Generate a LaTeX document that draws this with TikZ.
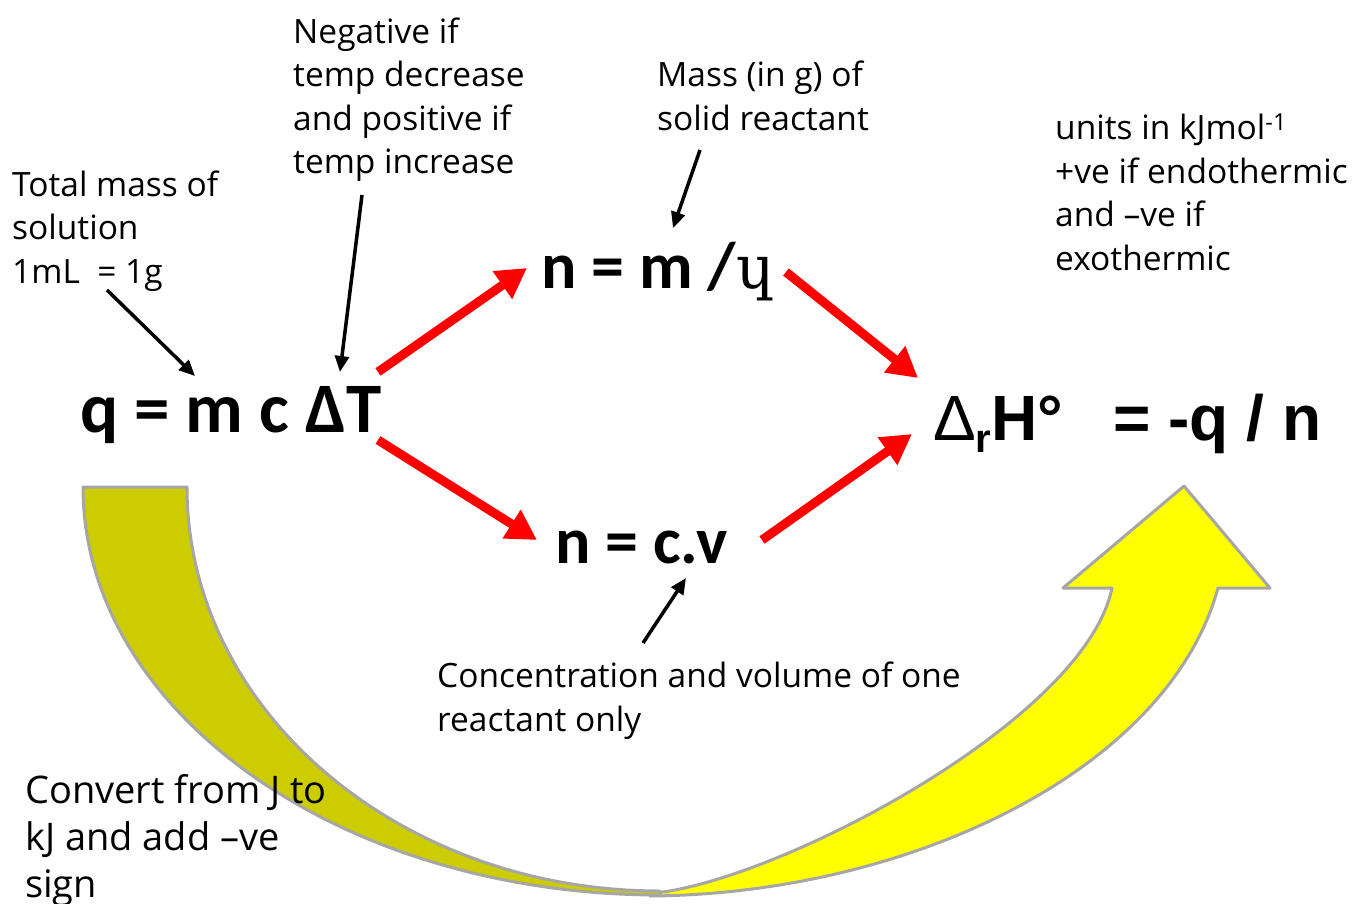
\documentclass[tikz,border=0pt]{standalone}
\usepackage{fontspec}
\setmainfont{Open Sans}
\newfontfamily\calb{Carlito}
\newfontfamily\arb{Liberation Sans}
\newfontfamily\dvs{DejaVu Serif}
\usetikzlibrary{arrows.meta}
\definecolor{darkyel}{HTML}{CCCC00}
\definecolor{brightyel}{HTML}{FFFF00}
\definecolor{edgegray}{HTML}{A6A6A6}
\begin{document}
\begin{tikzpicture}[x=1pt,y=-1pt,
  note/.style={font=\fontsize{33.5}{43.5}\selectfont, align=left, anchor=north west, inner sep=0pt},
  bignote/.style={font=\fontsize{38}{47}\selectfont, align=left, anchor=north west, inner sep=0pt},
  formula/.style={font=\calb\bfseries\fontsize{66}{70}\selectfont, inner sep=0pt, anchor=base west},
  formulab/.style={font=\arb\bfseries\fontsize{64}{70}\selectfont, inner sep=0pt, anchor=base west},
  redarrow/.style={draw=red, line width=9pt, -{Triangle[length=30pt,width=32pt]}},
  blackarrow/.style={draw=black, line width=3.5pt, -{Triangle[length=16pt,width=14pt]}},
  band/.style={draw=edgegray, line width=3pt, line join=round}]
\useasboundingbox (0,0) rectangle (1355,904);

% curved band arrow
\path[band, fill=brightyel] (650,896) .. controls (910,894) and (1168,770) .. (1218,588)
  -- (1270,588) -- (1184,486) -- (1063,588) -- (1112,588)
  .. controls (1085,720) and (780,880) .. (655,893) -- cycle;
\path[band, fill=darkyel] (83,487) -- (187,487) .. controls (187,710) and (399,891) .. (660,891)
  -- (660,895) .. controls (341,895) and (83,712) .. (83,487) -- cycle;

% formulas
\node[formula, font=\calb\bfseries\fontsize{71}{74}\selectfont] (q) at (80,432) {q = m c ΔT};
\node[formula] (nm) at (541,288) {n = m /{\dvs\mdseries\fontsize{60}{60}\selectfont ɥ}};
\node[formula] (nc) at (555,563) {n = c.v};
\node[formulab] (dh) at (933,440) {{\mdseries Δ}\raisebox{-12pt}{\fontsize{40}{40}\selectfont r}H°\hspace{50pt}= -q / n};

% notes
\node[note] (total) at (12,170.5) {Total mass of\\solution\\1mL\ \ = 1g};
\node[note] (neg) at (293,17.5) {Negative if\\temp decrease\\and positive if\\temp increase};
\node[note] (mass) at (657,61) {Mass (in g) of\\solid reactant};
\node[note] (units) at (1055,114) {units in kJmol\textsuperscript{-1}\\+ve if endothermic\\and –ve if\\exothermic};
\node[note] (conc) at (437,662) {Concentration and volume of one\\reactant only};
\node[bignote] (conv) at (25,774) {Convert from J to\\kJ and add –ve\\sign};

% red arrows
\coordinate (r1s) at (378,372); \coordinate (r1e) at (527,268);
\coordinate (r2s) at (378,440); \coordinate (r2e) at (537,540);
\coordinate (r3s) at (786,272); \coordinate (r3e) at (918,378);
\coordinate (r4s) at (762,540); \coordinate (r4e) at (912,434);
\draw[redarrow] (r1s) -- (r1e);
\draw[redarrow] (r2s) -- (r2e);
\draw[redarrow] (r3s) -- (r3e);
\draw[redarrow] (r4s) -- (r4e);

% black arrows
\coordinate (b1s) at (107,290); \coordinate (b1e) at (195,376);
\coordinate (b2s) at (362,195); \coordinate (b2e) at (340,372);
\coordinate (b3s) at (700,150); \coordinate (b3e) at (673,228);
\coordinate (b4s) at (643,643); \coordinate (b4e) at (686,578);
\draw[blackarrow] (b1s) -- (b1e);
\draw[blackarrow] (b2s) -- (b2e);
\draw[blackarrow] (b3s) -- (b3e);
\draw[blackarrow] (b4s) -- (b4e);
\end{tikzpicture}
\end{document}
